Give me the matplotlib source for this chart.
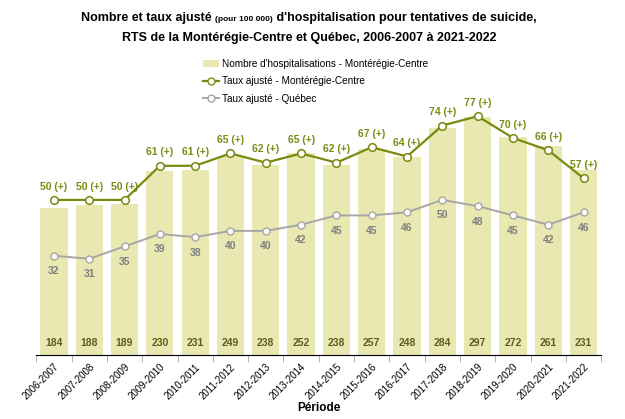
import numpy as np
import matplotlib
matplotlib.use('Agg')
import matplotlib.pyplot as plt
from matplotlib.patches import Patch
from matplotlib.lines import Line2D

plt.rcParams['font.family'] = ['Liberation Sans Narrow', 'Liberation Sans', 'DejaVu Sans']

# Data
periodes = ['2006-2007', '2007-2008', '2008-2009', '2009-2010', '2010-2011', '2011-2012',
            '2012-2013', '2013-2014', '2014-2015', '2015-2016', '2016-2017', '2017-2018',
            '2018-2019', '2019-2020', '2020-2021', '2021-2022']
nombre_mc = [184, 188, 189, 230, 231, 249, 238, 252, 238, 257, 248, 284, 297, 272, 261, 231]
taux_mc = [50, 50, 50, 61, 61, 65, 62, 65, 62, 67, 64, 74, 77, 70, 66, 57]
taux_qc = [32, 31, 35, 39, 38, 40, 40, 42, 45, 45, 46, 50, 48, 45, 42, 46]

bar_col = '#e8e8b0'
olive = '#7a8a10'
gray = '#a6a6a6'
lab_gray = '#7f7f7f'
count_col = '#5e5e1c'

fig = plt.figure(figsize=(6.25, 4.19), dpi=100)
ax = fig.add_axes([0.058, 0.153, 0.904, 0.725])
x = np.arange(len(periodes))

ax.bar(x, nombre_mc, width=0.77, color=bar_col, zorder=1)
ax.set_ylim(0, 380)
ax.set_xlim(-0.5, len(periodes) - 0.5)
for xi, v in zip(x, nombre_mc):
    ax.text(xi, 8, str(v), ha='center', va='bottom', fontsize=7.5, fontweight='bold', color=count_col)

ax2 = ax.twinx()
ax2.set_ylim(0, 98)
ax2.plot(x, taux_mc, color=olive, lw=1.6, marker='o', ms=5.5, mfc='white', mec=olive, mew=1.1, zorder=3)
ax2.plot(x, taux_qc, color=gray, lw=1.4, marker='o', ms=5, mfc='white', mec=gray, mew=1, zorder=3)
for xi, v in zip(x, taux_mc):
    ax2.annotate(f'{v} (+)', (xi, v), xytext=(0, 6), textcoords='offset points', ha='center',
                 va='bottom', fontsize=7.5, fontweight='bold', color=olive)
for xi, v in zip(x, taux_qc):
    ax2.annotate(str(v), (xi, v), xytext=(0, -7.5), textcoords='offset points', ha='center',
                 va='top', fontsize=7.5, fontweight='bold', color=lab_gray)

for a in (ax, ax2):
    for s in ('top', 'right', 'left'):
        a.spines[s].set_visible(False)
    a.set_yticks([])
ax.spines['bottom'].set_color('#a6a6a6')

ax.set_xticks(x)
ax.set_xticklabels(periodes, rotation=45, ha='right', rotation_mode='anchor', fontsize=7)
ax.tick_params(axis='x', length=0, pad=5)
ax.set_xticks(np.arange(-0.5, len(periodes)), minor=True)
ax.tick_params(axis='x', which='minor', length=5, color='#a6a6a6', direction='out')
ax.set_xlabel('Période', fontsize=8.5, fontweight='bold', labelpad=0)

# Title with smaller "(pour 100 000)"
fig.canvas.draw()
r = fig.canvas.get_renderer()
parts = [('Nombre et taux ajusté ', 9), ('(pour 100 000)', 6), (" d'hospitalisation pour tentatives de suicide,", 9)]
texts = [fig.text(0, 1 - 21 / 419, p, fontsize=s, fontweight='bold', va='baseline', ha='left') for p, s in parts]
widths = [t.get_window_extent(r).width for t in texts]
x0 = 309 - sum(widths) / 2
for t, w in zip(texts, widths):
    t.set_x(x0 / 625)
    x0 += w
fig.text(309 / 625, 1 - 41 / 419, 'RTS de la Montérégie-Centre et Québec, 2006-2007 à 2021-2022',
         fontsize=9, fontweight='bold', ha='center', va='baseline')

handles = [Patch(facecolor=bar_col, edgecolor='none'),
           Line2D([0], [0], color=olive, lw=1.6, marker='o', ms=5, mfc='white', mec=olive),
           Line2D([0], [0], color=gray, lw=1.4, marker='o', ms=5, mfc='white', mec=gray)]
labels = ["Nombre d'hospitalisations - Montérégie-Centre", 'Taux ajusté - Montérégie-Centre',
          'Taux ajusté - Québec']
fig.legend(handles, labels, loc='upper left', bbox_to_anchor=(198 / 625, 1 - 54 / 419), frameon=False,
           fontsize=7.2, handlelength=1.6, handletextpad=0.3, labelspacing=0.75, borderpad=0)

fig.savefig('out.png', dpi=100)
